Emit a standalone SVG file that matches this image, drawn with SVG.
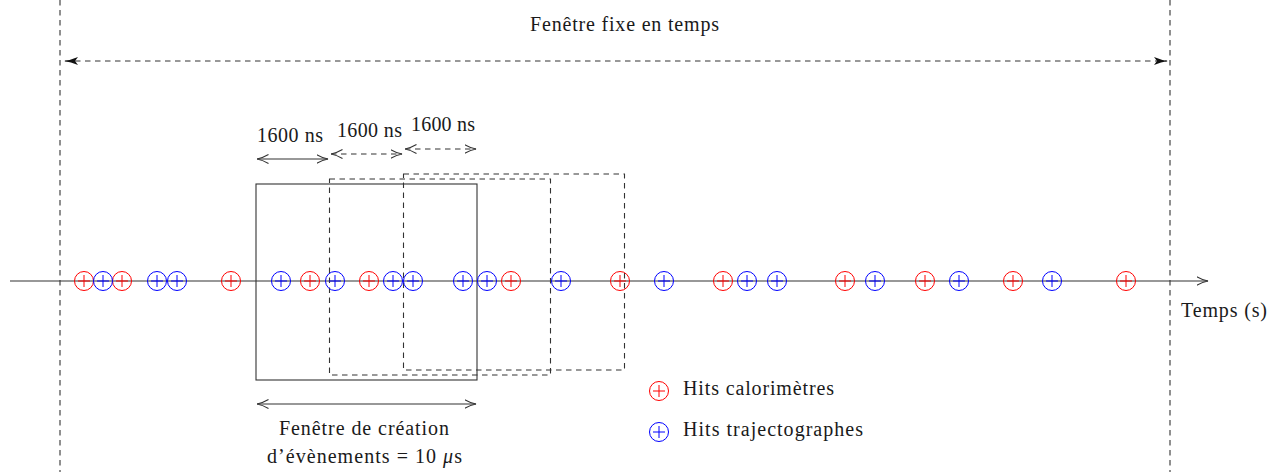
<svg xmlns="http://www.w3.org/2000/svg" width="1284" height="472" viewBox="0 0 1284 472">
<style>
text{font-family:"Liberation Serif","DejaVu Serif",serif;font-size:20px;fill:#1a1a1a}
.ln{stroke:#333;stroke-width:1.1;fill:none}
.ds{stroke:#333;stroke-width:1.1;fill:none;stroke-dasharray:5.5,4.5}
.r{stroke:#f00;fill:none}
.b{stroke:#00f;fill:none}
</style>
<defs>
<marker id="tri" viewBox="0 0 14 8" refX="13" refY="4" markerWidth="14" markerHeight="8" markerUnits="userSpaceOnUse" orient="auto-start-reverse"><path d="M0,0 Q7,3 14,4 Q7,5 0,8 L3,4 Z" fill="#111"/></marker>
<marker id="opn" viewBox="0 0 12 10" refX="11.5" refY="5" markerWidth="12" markerHeight="10" markerUnits="userSpaceOnUse" orient="auto-start-reverse"><path d="M0,0.5 Q6,4 11.5,5 Q6,6 0,9.5" fill="none" stroke="#333" stroke-width="1.1"/></marker>
<g id="hr" fill="none" stroke-width="1"><circle r="9.5"/><line x1="-6" y1="0" x2="6" y2="0"/><line x1="0" y1="-6" x2="0" y2="6"/></g>
</defs>
<g id="connectors">
<line class="ds" x1="60" y1="0" x2="60" y2="472"/>
<line class="ds" x1="1170" y1="0" x2="1170" y2="472"/>
<line class="ds" x1="65" y1="61" x2="1167" y2="61" marker-start="url(#tri)" marker-end="url(#tri)"/>
<line class="ln" x1="10" y1="281" x2="1208" y2="281" marker-end="url(#opn)"/>
<line class="ln" x1="257" y1="159" x2="328" y2="159" marker-start="url(#opn)" marker-end="url(#opn)"/>
<line class="ds" x1="331" y1="154" x2="402" y2="154" stroke-dasharray="4,3.5" marker-start="url(#opn)" marker-end="url(#opn)"/>
<line class="ds" x1="405" y1="149" x2="476" y2="149" stroke-dasharray="4,3.5" marker-start="url(#opn)" marker-end="url(#opn)"/>
<line class="ln" x1="257" y1="404" x2="476" y2="404" marker-start="url(#opn)" marker-end="url(#opn)"/>
</g>
<g id="windows">
<rect class="ln" x="256" y="184" width="221" height="196"/>
<rect class="ds" x="329.5" y="179" width="221" height="196"/>
<rect class="ds" x="403.5" y="174" width="221" height="196"/>
</g>
<g id="hits">
<g class="r">
<use href="#hr" x="84" y="281"/><use href="#hr" x="122" y="281"/><use href="#hr" x="231" y="281"/>
<use href="#hr" x="310" y="281"/><use href="#hr" x="369" y="281"/><use href="#hr" x="511" y="281"/>
<use href="#hr" x="620" y="281"/><use href="#hr" x="723" y="281"/><use href="#hr" x="845" y="281"/>
<use href="#hr" x="925" y="281"/><use href="#hr" x="1013" y="281"/><use href="#hr" x="1126" y="281"/>
</g>
<g class="b">
<use href="#hr" x="103" y="281"/><use href="#hr" x="157" y="281"/><use href="#hr" x="177" y="281"/>
<use href="#hr" x="281" y="281"/><use href="#hr" x="335" y="281"/><use href="#hr" x="393" y="281"/>
<use href="#hr" x="413" y="281"/><use href="#hr" x="463" y="281"/><use href="#hr" x="487" y="281"/>
<use href="#hr" x="561" y="281"/><use href="#hr" x="664" y="281"/><use href="#hr" x="747" y="281"/>
<use href="#hr" x="777" y="281"/><use href="#hr" x="875" y="281"/><use href="#hr" x="959" y="281"/>
<use href="#hr" x="1052" y="281"/>
</g>
</g>
<g id="labels">
<text x="530" y="31" textLength="189" lengthAdjust="spacing">Fenêtre fixe en temps</text>
<text x="1181" y="317" textLength="86" lengthAdjust="spacing">Temps (s)</text>
<text x="257" y="142" textLength="66" lengthAdjust="spacing">1600 ns</text>
<text x="337" y="137" textLength="65" lengthAdjust="spacing">1600 ns</text>
<text x="411" y="131" textLength="64" lengthAdjust="spacing">1600 ns</text>
<text x="279" y="435" textLength="170" lengthAdjust="spacing">Fenêtre de création</text>
<text x="267" y="463" textLength="195" lengthAdjust="spacing">d’évènements = 10 <tspan font-style="italic">μ</tspan>s</text>
</g>
<g id="legend">
<g class="r"><use href="#hr" x="659" y="391"/></g>
<text x="683" y="395" textLength="151" lengthAdjust="spacing">Hits calorimètres</text>
<g class="b"><use href="#hr" x="659" y="432"/></g>
<text x="683" y="436" textLength="180" lengthAdjust="spacing">Hits trajectographes</text>
</g>
</svg>
